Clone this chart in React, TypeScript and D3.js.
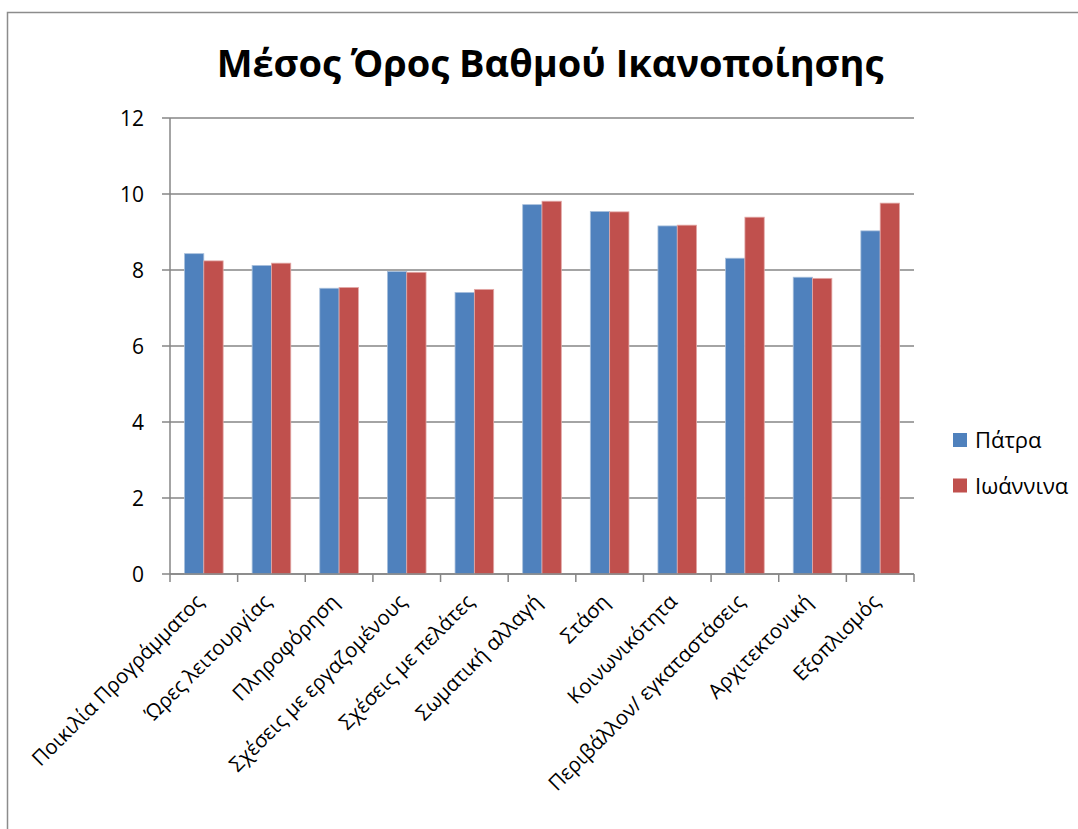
import React from "react";
import * as d3 from "d3";

const categories = [
  "Ποικιλία Προγράμματος",
  "Ώρες λειτουργίας",
  "Πληροφόρηση",
  "Σχέσεις με εργαζομένους",
  "Σχέσεις με πελάτες",
  "Σωματική αλλαγή",
  "Στάση",
  "Κοινωνικότητα",
  "Περιβάλλον/ εγκαταστάσεις",
  "Αρχιτεκτονική",
  "Εξοπλισμός",
];
const patra = [8.43, 8.12, 7.52, 7.96, 7.41, 9.72, 9.54, 9.16, 8.31, 7.81, 9.03];
const ioannina = [8.24, 8.18, 7.54, 7.94, 7.49, 9.81, 9.53, 9.18, 9.39, 7.78, 9.76];
const seriesNames = ["Πάτρα", "Ιωάννινα"];
const seriesColors = ["#4F81BD", "#C0504D"];
const yTicks = [0, 2, 4, 6, 8, 10, 12];
const title = "Μέσος Όρος Βαθμού Ικανοποίησης";

export default function App() {
  const W = 1078, H = 829;
  const left = 170, right = 914, top = 118, bottom = 574;
  const x = d3.scaleBand<string>().domain(categories).range([left, right]).paddingInner(0).paddingOuter(0);
  const y = d3.scaleLinear().domain([0, 12]).range([bottom, top]);
  const bw = x.bandwidth();
  const barW = bw / 3.5;
  const groupStart = (bw - 2 * barW) / 2;
  const data = [patra, ioannina];
  const font = "'Open Sans', 'Noto Sans', sans-serif";
  const gridColor = "#868686";
  const boundaries = d3.range(categories.length + 1).map((i) => left + i * bw);

  return (
    <svg width={W} height={H} style={{ position: "absolute", left: 0, top: 0 }} fontFamily={font}>
      <rect x={0} y={0} width={W} height={H} fill="#fff" />
      <rect x={7.5} y={12.5} width={W + 20} height={H + 20} fill="none" stroke="#8c8c8c" strokeWidth={1.5} />
      <text x={550} y={77} textAnchor="middle" fontSize={38} fontWeight="bold" fill="#000">
        {title}
      </text>
      {yTicks.map((t) => (
        <g key={t}>
          <line x1={left - 8} x2={right} y1={y(t)} y2={y(t)} stroke={gridColor} strokeWidth={1.5} />
          <text x={144} y={y(t)} dy="0.36em" textAnchor="end" fontSize={21} fill="#000">
            {t}
          </text>
        </g>
      ))}
      {data.map((vals, si) =>
        vals.map((v, i) => (
          <rect
            key={si + "-" + i}
            x={(x(categories[i]) as number) + groupStart + si * barW}
            y={y(v)}
            width={barW}
            height={y(0) - y(v)}
            fill={seriesColors[si]}
            stroke={si === 0 ? "#a9c0dc" : "#e3a9a7"}
            strokeWidth={0.8}
          />
        ))
      )}
      <line x1={left} x2={left} y1={top} y2={bottom} stroke={gridColor} strokeWidth={1.5} />
      <line x1={left} x2={right} y1={bottom} y2={bottom} stroke={gridColor} strokeWidth={1.5} />
      {boundaries.map((bx, i) => (
        <line key={i} x1={bx} x2={bx} y1={bottom} y2={bottom + 8} stroke={gridColor} strokeWidth={1.5} />
      ))}
      {categories.map((c) => {
        const cx = (x(c) as number) + bw / 2 + 1;
        const cy = 603;
        return (
          <text
            key={c}
            x={cx}
            y={cy}
            textAnchor="end"
            fontSize={20.5}
            fill="#000"
            transform={`rotate(-45, ${cx}, ${cy})`}
          >
            {c}
          </text>
        );
      })}
      {seriesNames.map((n, i) => (
        <g key={n}>
          <rect x={953} y={433 + i * 45.5} width={14} height={14} fill={seriesColors[i]} />
          <text x={975} y={448 + i * 45.5} fontSize={22} fill="#000">
            {n}
          </text>
        </g>
      ))}
    </svg>
  );
}
